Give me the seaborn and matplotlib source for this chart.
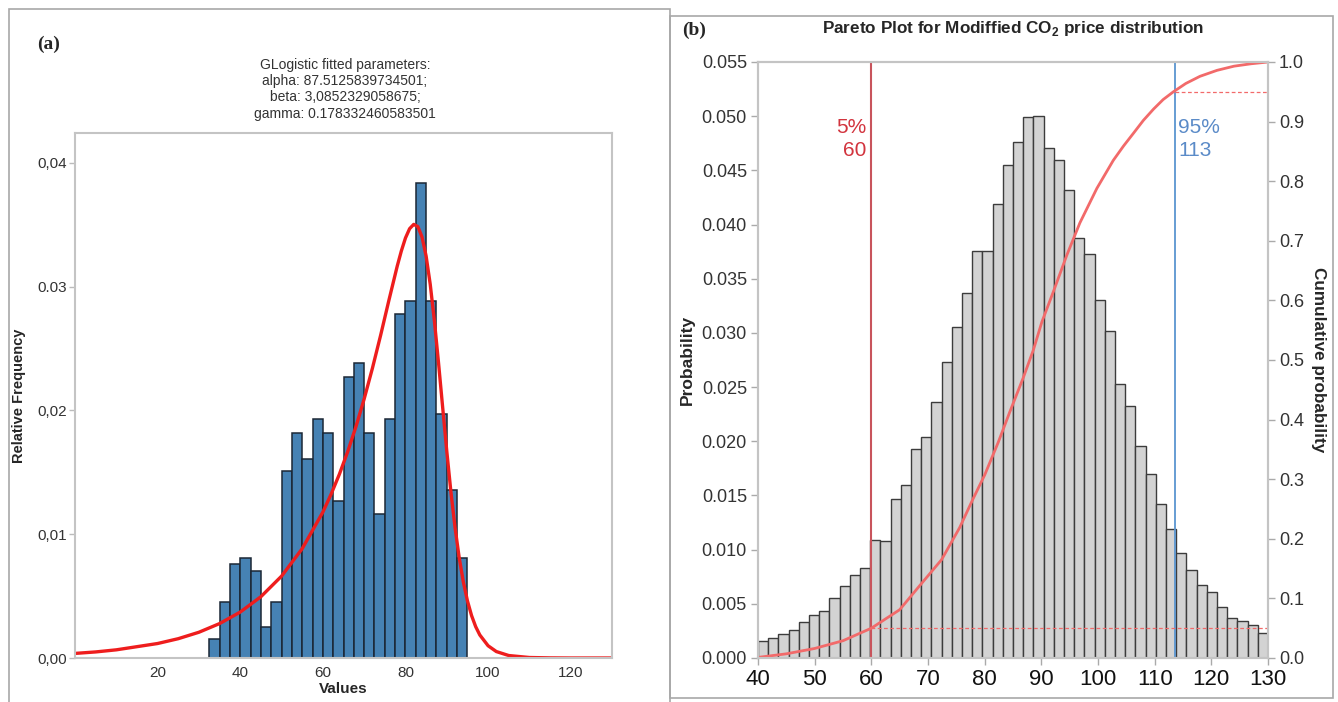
import numpy as np
import pandas as pd
import matplotlib
matplotlib.use("Agg")
import matplotlib.pyplot as plt
from matplotlib.patches import Rectangle
import seaborn as sns

sns.set_theme(style="white")
plt.rcParams["font.family"] = ["Liberation Sans", "DejaVu Sans"]
plt.rcParams["mathtext.fontset"] = "custom"
plt.rcParams["mathtext.rm"] = "Liberation Sans"
plt.rcParams["mathtext.bf"] = "Liberation Sans:bold"

# ---------------- (a) GLogistic fit -----------------
a_bin_start, a_bin_end = 32.5, 95.0
a_freq = [0.0015, 0.0045, 0.0076, 0.0081, 0.0070, 0.0025, 0.0045, 0.0151,
          0.0182, 0.0161, 0.0193, 0.0182, 0.0127, 0.0227, 0.0238, 0.0182,
          0.0116, 0.0193, 0.0278, 0.0288, 0.0384, 0.0288, 0.0197, 0.0136,
          0.0081]
a_fit_x = [0, 5, 10, 20, 25, 30, 35, 40, 45, 50, 55, 60, 62, 64, 66, 68, 70,
           72, 74, 76, 78, 79, 80, 81, 82, 83, 84, 85, 86, 87, 88, 89, 90, 91,
           92, 93, 94, 95, 96, 97, 98, 100, 102, 105, 110, 115, 120, 130]
a_fit_y = [0.00037, 0.00049, 0.00066, 0.00117, 0.00156, 0.00208, 0.00278,
           0.00371, 0.00495, 0.00661, 0.00883, 0.01178, 0.01323, 0.01484,
           0.01665, 0.01867, 0.02092, 0.02340, 0.02608, 0.02890, 0.03164,
           0.03287, 0.03392, 0.03467, 0.03502, 0.03484, 0.03401, 0.03246,
           0.03017, 0.02724, 0.02385, 0.02026, 0.01671, 0.01342, 0.01054,
           0.00812, 0.00616, 0.00462, 0.00343, 0.00253, 0.00186, 0.00099,
           0.00052, 0.00020, 0.00004, 0.00001, 0.0, 0.0]
a_xticks = [20, 40, 60, 80, 100, 120]
a_yticks = [0.0, 0.01, 0.02, 0.03, 0.04]
a_ytick_labels = ["0,00", "0,01", "0,02", "0.03", "0,04"]
a_title = ("GLogistic fitted parameters:\nalpha: 87.5125839734501;\n"
           "beta: 3,0852329058675;\ngamma: 0.178332460583501")

# ---------------- (b) Pareto plot -----------------
b_bin_start, b_bin_end = 40, 130
b_prob = [0.0016, 0.0018, 0.0022, 0.0026, 0.0033, 0.0040, 0.0043, 0.0055,
          0.0066, 0.0077, 0.0083, 0.0109, 0.0108, 0.0147, 0.0160, 0.0193,
          0.0204, 0.0236, 0.0273, 0.0305, 0.0337, 0.0376, 0.0376, 0.0419,
          0.0455, 0.0476, 0.0499, 0.0500, 0.0471, 0.0460, 0.0432, 0.0388,
          0.0373, 0.0330, 0.0302, 0.0253, 0.0233, 0.0196, 0.0170, 0.0142,
          0.0119, 0.0097, 0.0081, 0.0067, 0.0061, 0.0047, 0.0037, 0.0034,
          0.0030, 0.0023]
b_cdf_x = [40, 45, 50, 55, 60, 65, 68.5, 72.4, 75.6, 77.9, 80, 82.4, 84.4,
           86.8, 88.6, 90.1, 92.1, 94.5, 96.8, 99.8, 102.7, 104.5, 106.3,
           108.0, 109.8, 111.5, 113.3, 115.5, 118, 121, 124, 127, 130]
b_cdf_y = [0.001, 0.007, 0.016, 0.029, 0.05, 0.081, 0.121, 0.165, 0.219,
           0.266, 0.307, 0.362, 0.412, 0.470, 0.517, 0.564, 0.614, 0.676,
           0.730, 0.788, 0.835, 0.859, 0.881, 0.902, 0.921, 0.937, 0.950,
           0.964, 0.976, 0.986, 0.993, 0.997, 1.0]
p05_x, p95_x = 60.0, 113.6
p05_y, p95_y = 0.05, 0.95
p05_label, p95_label = "5%\n60", "95%\n113"
b_xticks = list(range(40, 131, 10))
b_yticks = [0.000, 0.005, 0.010, 0.015, 0.020, 0.025, 0.030, 0.035, 0.040,
            0.045, 0.050, 0.055]
b_y2ticks = [0.0, 0.1, 0.2, 0.3, 0.4, 0.5, 0.6, 0.7, 0.8, 0.9, 1.0]

W, H = 1338, 702
fig = plt.figure(figsize=(W / 100, H / 100), dpi=100)

def fx(px):
    return px / W

def fy(py):
    return 1 - py / H

def centers(start, end, n):
    edges = np.linspace(start, end, n + 1)
    return (edges[:-1] + edges[1:]) / 2

# panel frames
fig.add_artist(Rectangle((fx(9), fy(705)), fx(661), 696 / H, transform=fig.transFigure,
                         fill=False, edgecolor="#a8a8a8", lw=1.2))
fig.add_artist(Rectangle((fx(670), fy(698)), fx(663), 682 / H, transform=fig.transFigure,
                         fill=False, edgecolor="#a8a8a8", lw=1.2))

# ---------- panel a ----------
axA = fig.add_axes([fx(75), fy(658), fx(537), 525 / H])
dfA = pd.DataFrame({"value": centers(a_bin_start, a_bin_end, len(a_freq)),
                    "freq": a_freq})
sns.histplot(data=dfA, x="value", weights="freq", bins=len(a_freq),
             binrange=(a_bin_start, a_bin_end), ax=axA,
             color="#4682b4", edgecolor="#1b2735", linewidth=1.1, alpha=1)
sns.lineplot(x=a_fit_x, y=a_fit_y, ax=axA, color="#ee1d1d", lw=2.4)
axA.set_xlim(0, 130)
axA.set_ylim(0, 0.0424)
axA.set_xticks(a_xticks)
axA.set_xticklabels([str(t) for t in a_xticks], fontsize=11, color="#333333")
axA.set_yticks(a_yticks)
axA.set_yticklabels(a_ytick_labels, fontsize=11, color="#333333")
axA.tick_params(left=True, bottom=False, length=4, width=1, color="#bbbbbb", pad=2)
axA.set_xlabel("Values", fontsize=11, fontweight="bold", labelpad=1)
axA.set_ylabel("Relative Frequency", fontsize=10.5, fontweight="bold", labelpad=8)
for s in axA.spines.values():
    s.set_color("#c4c4c4")
    s.set_linewidth(1.5)
fig.text(fx(345), fy(58), a_title, ha="center", va="top", fontsize=10,
         color="#333333", linespacing=1.2)
fig.text(fx(37), fy(44), "(a)", ha="left", va="center", fontsize=14,
         family=["Liberation Serif", "DejaVu Serif"], fontweight="bold")

# ---------- panel b ----------
axB = fig.add_axes([fx(758), fy(658), fx(510), 596 / H])
dfB = pd.DataFrame({"price": centers(b_bin_start, b_bin_end, len(b_prob)),
                    "prob": b_prob})
sns.histplot(data=dfB, x="price", weights="prob", bins=len(b_prob),
             binrange=(b_bin_start, b_bin_end), ax=axB,
             color="#d3d3d3", edgecolor="#3c3c3c", linewidth=1.0, alpha=1)
axB.set_xlim(b_bin_start, b_bin_end)
axB.set_ylim(0, 0.055)
axB.set_xticks(b_xticks)
axB.set_xticklabels([str(t) for t in b_xticks], fontsize=16, color="#111111")
axB.set_yticks(b_yticks)
axB.set_yticklabels([f"{t:.3f}" for t in b_yticks], fontsize=13, color="#333333")
axB.tick_params(left=True, bottom=True, length=5, width=1, color="#aaaaaa", pad=3)
axB.set_ylabel("Probability", fontsize=12.5, fontweight="bold", labelpad=5)
axB.set_xlabel("")
axB.axvline(p05_x, color="#c8545c", lw=1.5)
axB.axvline(p95_x, color="#5b95d0", lw=1.3)
axB.text(p05_x - 0.9, 0.0498, p05_label, ha="right", va="top", fontsize=15,
         color="#d2343e", linespacing=1.25)
axB.text(p95_x + 0.6, 0.0498, p95_label, ha="left", va="top", fontsize=15,
         color="#5b8bc8", linespacing=1.25)

axB2 = axB.twinx()
sns.lineplot(x=b_cdf_x, y=b_cdf_y, ax=axB2, color="#f26a6a", lw=2.0)
axB2.hlines(p05_y, p05_x, b_bin_end, color="#f26a6a", lw=0.9, linestyles=(0, (3, 2)))
axB2.hlines(p95_y, p95_x, b_bin_end, color="#f26a6a", lw=0.9, linestyles=(0, (3, 2)))
axB2.set_ylim(0, 1.0)
axB2.set_yticks(b_y2ticks)
axB2.set_yticklabels([f"{t:.1f}" for t in b_y2ticks], fontsize=13, color="#333333")
axB2.tick_params(right=True, length=5, width=1, color="#aaaaaa", pad=3)
axB2.set_ylabel("Cumulative probability", fontsize=12.3, fontweight="bold",
                rotation=270, labelpad=16)
for ax in (axB, axB2):
    for s in ax.spines.values():
        s.set_color("#c4c4c4")
        s.set_linewidth(1.5)
fig.text(fx(1013), fy(28), r"Pareto Plot for Modiffied CO$_\mathbf{2}$ price distribution",
         ha="center", va="center", fontsize=12.3, fontweight="bold")
fig.text(fx(682), fy(30), "(b)", ha="left", va="center", fontsize=14,
         family=["Liberation Serif", "DejaVu Serif"], fontweight="bold")

fig.savefig("out.png", dpi=100)
